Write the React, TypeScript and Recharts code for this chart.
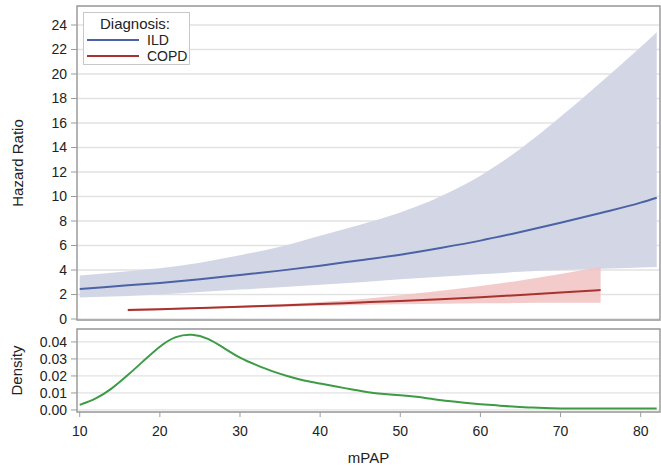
import { ComposedChart, Line, Area, XAxis, YAxis, CartesianGrid, Legend, ReferenceArea } from 'recharts'

// mPAP grid for the hazard-ratio panel
const mpap = [10, 16, 20, 25, 30, 35, 40, 45, 50, 55, 60, 65, 70, 75, 80, 82]
const ildHr = [2.45, 2.75, 2.95, 3.25, 3.6, 3.95, 4.35, 4.8, 5.25, 5.8, 6.4, 7.1, 7.85, 8.65, 9.5, 9.9]
const ildLower = [1.75, 1.88, 2.0, 2.2, 2.4, 2.6, 2.8, 3.0, 3.25, 3.45, 3.65, 3.85, 4.0, 4.1, 4.2, 4.25]
const ildUpper = [3.55, 3.9, 4.15, 4.6, 5.2, 5.9, 6.8, 7.7, 8.7, 10.0, 11.7, 13.9, 16.5, 19.3, 22.2, 23.4]
const copdHr = [null, 0.73, 0.8, 0.9, 1.0, 1.1, 1.22, 1.35, 1.48, 1.62, 1.78, 1.96, 2.16, 2.37, null, null]
const copdLower = [null, 0.63, 0.71, 0.81, 0.91, 1.0, 1.08, 1.15, 1.2, 1.25, 1.28, 1.3, 1.32, 1.33, null, null]
const copdUpper = [null, 0.83, 0.88, 0.97, 1.08, 1.2, 1.38, 1.62, 1.95, 2.3, 2.7, 3.15, 3.68, 4.27, null, null]

// density of mPAP
const densX = [10, 12, 14, 16, 18, 20, 22, 24, 26, 28, 30, 32, 34, 36, 38, 40, 42, 44, 46, 48, 50, 52, 54, 56, 58, 60, 62, 64, 66, 68, 70, 75, 80, 82]
const densY = [0.003, 0.0068, 0.0127, 0.0205, 0.029, 0.0372, 0.0428, 0.0442, 0.0418, 0.0364, 0.0308, 0.0265, 0.0228, 0.0198, 0.0173, 0.0155, 0.0138, 0.012, 0.0104, 0.0094, 0.0087, 0.0078, 0.0065, 0.0052, 0.0042, 0.0034, 0.0027, 0.002, 0.0015, 0.0011, 0.0009, 0.0008, 0.0008, 0.0008]

const hrTicks = [0, 2, 4, 6, 8, 10, 12, 14, 16, 18, 20, 22, 24]
const densTicks = [0, 0.01, 0.02, 0.03, 0.04]
const xTicks = [10, 20, 30, 40, 50, 60, 70, 80]

const legendItems = [
  { name: 'ILD', color: '#4b62a6' },
  { name: 'COPD', color: '#a8322d' },
]

const X_DOMAIN: [number, number] = [9.66, 82.41]
const HR_DOMAIN: [number, number] = [-0.08, 25.55]
const DENS_DOMAIN: [number, number] = [-0.0012, 0.0476]

const font = '"Liberation Sans", Arial, sans-serif'
const textColor = '#222'
const frame = '#9c9c9c'
const gridColor = '#e2e2e2'

const hrData = mpap.map((x, i) => ({
  x,
  ild: ildHr[i],
  ildBand: [ildLower[i], ildUpper[i]],
  copd: copdHr[i],
  copdBand: copdHr[i] == null ? null : [copdLower[i], copdUpper[i]],
}))

const densData = densX.map((x, i) => ({ x, density: densY[i] }))

const renderLegend = () => (
  <div
    style={{
      width: 105,
      height: 51,
      border: '1px solid #c8c8c8',
      background: '#fff',
      fontFamily: font,
      fontSize: 15,
      color: textColor,
      position: 'relative',
    }}
  >
    <div style={{ position: 'absolute', left: 16, top: 2 }}>Diagnosis:</div>
    {legendItems.map((item, i) => (
      <div key={item.name} style={{ position: 'absolute', left: 3, top: 19 + i * 16, height: 16, display: 'flex', alignItems: 'center' }}>
        <div style={{ width: 52, height: 2, background: item.color }} />
        <span style={{ marginLeft: 8, fontSize: 14 }}>{item.name}</span>
      </div>
    ))}
  </div>
)

const tickStyle = { fill: textColor, fontSize: 14, fontFamily: font }

const App = () => {
  return (
    <div style={{ position: 'absolute', left: 0, top: 0, width: 661, height: 466, background: '#fff' }}>
      <div style={{ position: 'absolute', left: 0, top: 0 }}>
        <ComposedChart width={661} height={330} data={hrData} margin={{ top: 6, right: 1, bottom: 10, left: 0 }}>
          <CartesianGrid vertical={false} stroke={gridColor} strokeWidth={1.3} />
          <XAxis dataKey="x" type="number" domain={X_DOMAIN} allowDataOverflow hide />
          <YAxis
            type="number"
            domain={HR_DOMAIN}
            ticks={hrTicks}
            interval={0}
            allowDataOverflow
            width={77}
            axisLine={false}
            tickLine={{ stroke: frame }}
            tickSize={6}
            tickMargin={4}
            tick={tickStyle}
            label={{ value: 'Hazard Ratio', angle: -90, position: 'insideLeft', offset: 18, style: { textAnchor: 'middle', fill: textColor, fontSize: 15, fontFamily: font } }}
          />
          <Area dataKey="ildBand" type="monotone" stroke="none" fill="#d3d7e5" fillOpacity={1} isAnimationActive={false} />
          <Area dataKey="copdBand" type="monotone" stroke="none" fill="#f1c2c2" fillOpacity={0.85} isAnimationActive={false} />
          <Line dataKey="ild" type="monotone" stroke="#4b62a6" strokeWidth={2} dot={false} isAnimationActive={false} />
          <Line dataKey="copd" type="monotone" stroke="#a8322d" strokeWidth={2} dot={false} isAnimationActive={false} />
          <ReferenceArea x1={X_DOMAIN[0]} x2={X_DOMAIN[1]} y1={HR_DOMAIN[0]} y2={HR_DOMAIN[1]} fill="none" stroke={frame} strokeWidth={1.5} />
          <Legend
            layout="horizontal"
            verticalAlign="middle"
            align="center"
            content={renderLegend}
            wrapperStyle={{ left: 83, top: 12, width: 'auto', height: 'auto' }}
          />
        </ComposedChart>
      </div>
      <div style={{ position: 'absolute', left: 0, top: 322 }}>
        <ComposedChart width={661} height={144} data={densData} margin={{ top: 7, right: 1, bottom: 0, left: 0 }}>
          <CartesianGrid vertical={false} stroke={gridColor} strokeWidth={1.3} />
          <XAxis
            dataKey="x"
            type="number"
            domain={X_DOMAIN}
            ticks={xTicks}
            interval={0}
            allowDataOverflow
            height={54}
            axisLine={false}
            tickLine={{ stroke: frame }}
            tickSize={5}
            tickMargin={9}
            tick={tickStyle}
            label={{ value: 'mPAP', position: 'insideBottom', offset: 3, style: { fill: textColor, fontSize: 15, fontFamily: font } }}
          />
          <YAxis
            type="number"
            domain={DENS_DOMAIN}
            ticks={densTicks}
            interval={0}
            allowDataOverflow
            width={77}
            axisLine={false}
            tickLine={{ stroke: frame }}
            tickSize={6}
            tickMargin={4}
            tick={tickStyle}
            tickFormatter={(v: number) => v.toFixed(2)}
            label={{ value: 'Density', angle: -90, position: 'insideLeft', offset: 17, style: { textAnchor: 'middle', fill: textColor, fontSize: 15, fontFamily: font } }}
          />
          <Line dataKey="density" type="natural" stroke="#3c9b44" strokeWidth={2} dot={false} isAnimationActive={false} />
          <ReferenceArea x1={X_DOMAIN[0]} x2={X_DOMAIN[1]} y1={DENS_DOMAIN[0]} y2={DENS_DOMAIN[1]} fill="none" stroke={frame} strokeWidth={1.5} />
        </ComposedChart>
      </div>
    </div>
  )
}

export default App
